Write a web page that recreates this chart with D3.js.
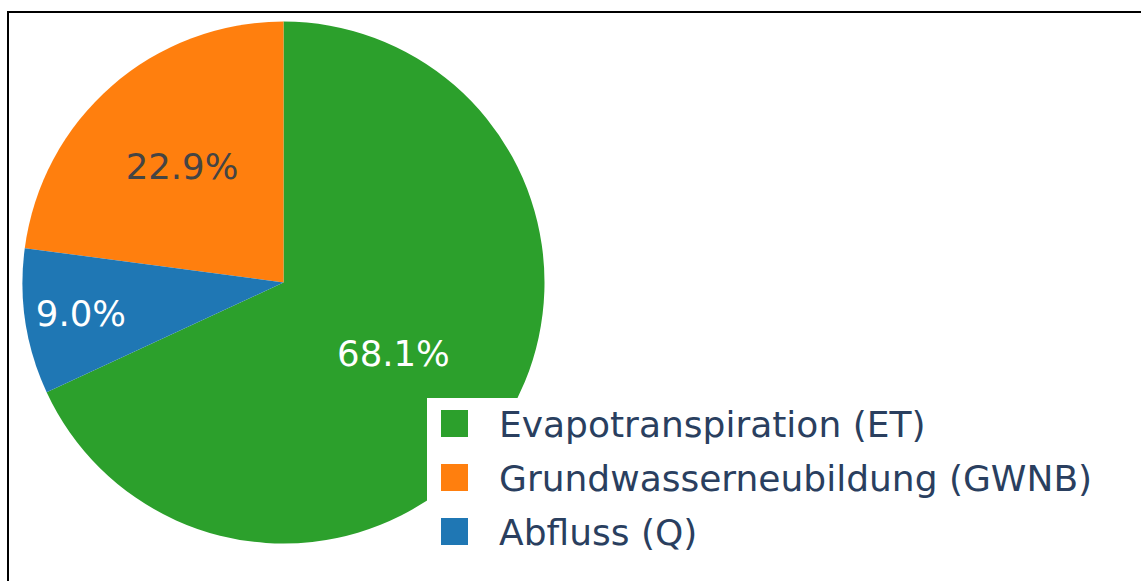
<!DOCTYPE html>
<meta charset="utf-8">
<script src="https://d3js.org/d3.v7.min.js"></script>
<style>
	body{
		margin:0;
		background:#fff;
		font-family:'DejaVu Sans', Verdana, sans-serif;
	}
</style>
<div id="chart"></div>
<script>
	// data, legend order
	var labels = ["Evapotranspiration (ET)","Grundwasserneubildung (GWNB)","Abfluss (Q)"]
	var values = [68.1, 22.9, 9.0]
	var colors = ["#2ca02c","#ff7f0e","#1f77b4"]
	// clockwise drawing order from 12 o'clock
	var drawOrder = [0, 2, 1]

	var w = 1141
	var h = 581
	var cx = 283.5
	var cy = 282.5
	var r = 261
	// how far out (share of radius) the inside labels sit
	var labelR = [0.5, 0.59, 0.785]
	var labelFill = ["#fff","#444","#fff"]

	var svg = d3.select("#chart").append("svg").attr("width",w).attr("height",h)

	var pie = d3.pie()
		.sort(function(a,b){ return drawOrder.indexOf(a) - drawOrder.indexOf(b) })
		.value(function(i){ return values[i] })

	var arcs = pie(d3.range(values.length))
	var arc = d3.arc().innerRadius(0).outerRadius(r)

	var g = svg.append("g").attr("transform","translate("+cx+","+cy+")")

	g.selectAll("path")
		.data(arcs)
		.join("path")
		.attr("d", arc)
		.attr("fill", function(d){ return colors[d.data] })

	g.selectAll("text")
		.data(arcs)
		.join("text")
		.attr("transform", function(d){
			var a = (d.startAngle + d.endAngle)/2
			var rr = r*labelR[d.data]
			return "translate("+(Math.sin(a)*rr)+","+(-Math.cos(a)*rr)+")"
		})
		.attr("text-anchor","middle")
		.attr("dy","0.36em")
		.style("font-size","35.5px")
		.attr("fill", function(d){ return labelFill[d.data] })
		.text(function(d){ return values[d.data].toFixed(1)+"%" })

	// legend
	var lx = 427
	var ly = 398
	var legend = svg.append("g").attr("transform","translate("+lx+","+ly+")")
	legend.append("rect").attr("width",690).attr("height",170).attr("fill","#fff")

	var row = 54
	legend.selectAll("rect.key")
		.data(labels)
		.join("rect")
		.attr("class","key")
		.attr("x",14)
		.attr("y",function(d,i){ return 12 + i*row })
		.attr("width",27)
		.attr("height",27)
		.attr("fill",function(d,i){ return colors[i] })

	legend.selectAll("text")
		.data(labels)
		.join("text")
		.attr("x",72)
		.attr("y",function(d,i){ return 26 + i*row })
		.attr("dy","0.36em")
		.style("font-size","36px")
		.attr("fill","#2a3f5f")
		.text(function(d){ return d })

	// frame, only top and left edges visible
	svg.append("line").attr("x1",8).attr("x2",w).attr("y1",12).attr("y2",12)
		.attr("stroke","#000").attr("stroke-width",2)
	svg.append("line").attr("x1",8).attr("x2",8).attr("y1",11).attr("y2",h)
		.attr("stroke","#000").attr("stroke-width",2)
</script>
